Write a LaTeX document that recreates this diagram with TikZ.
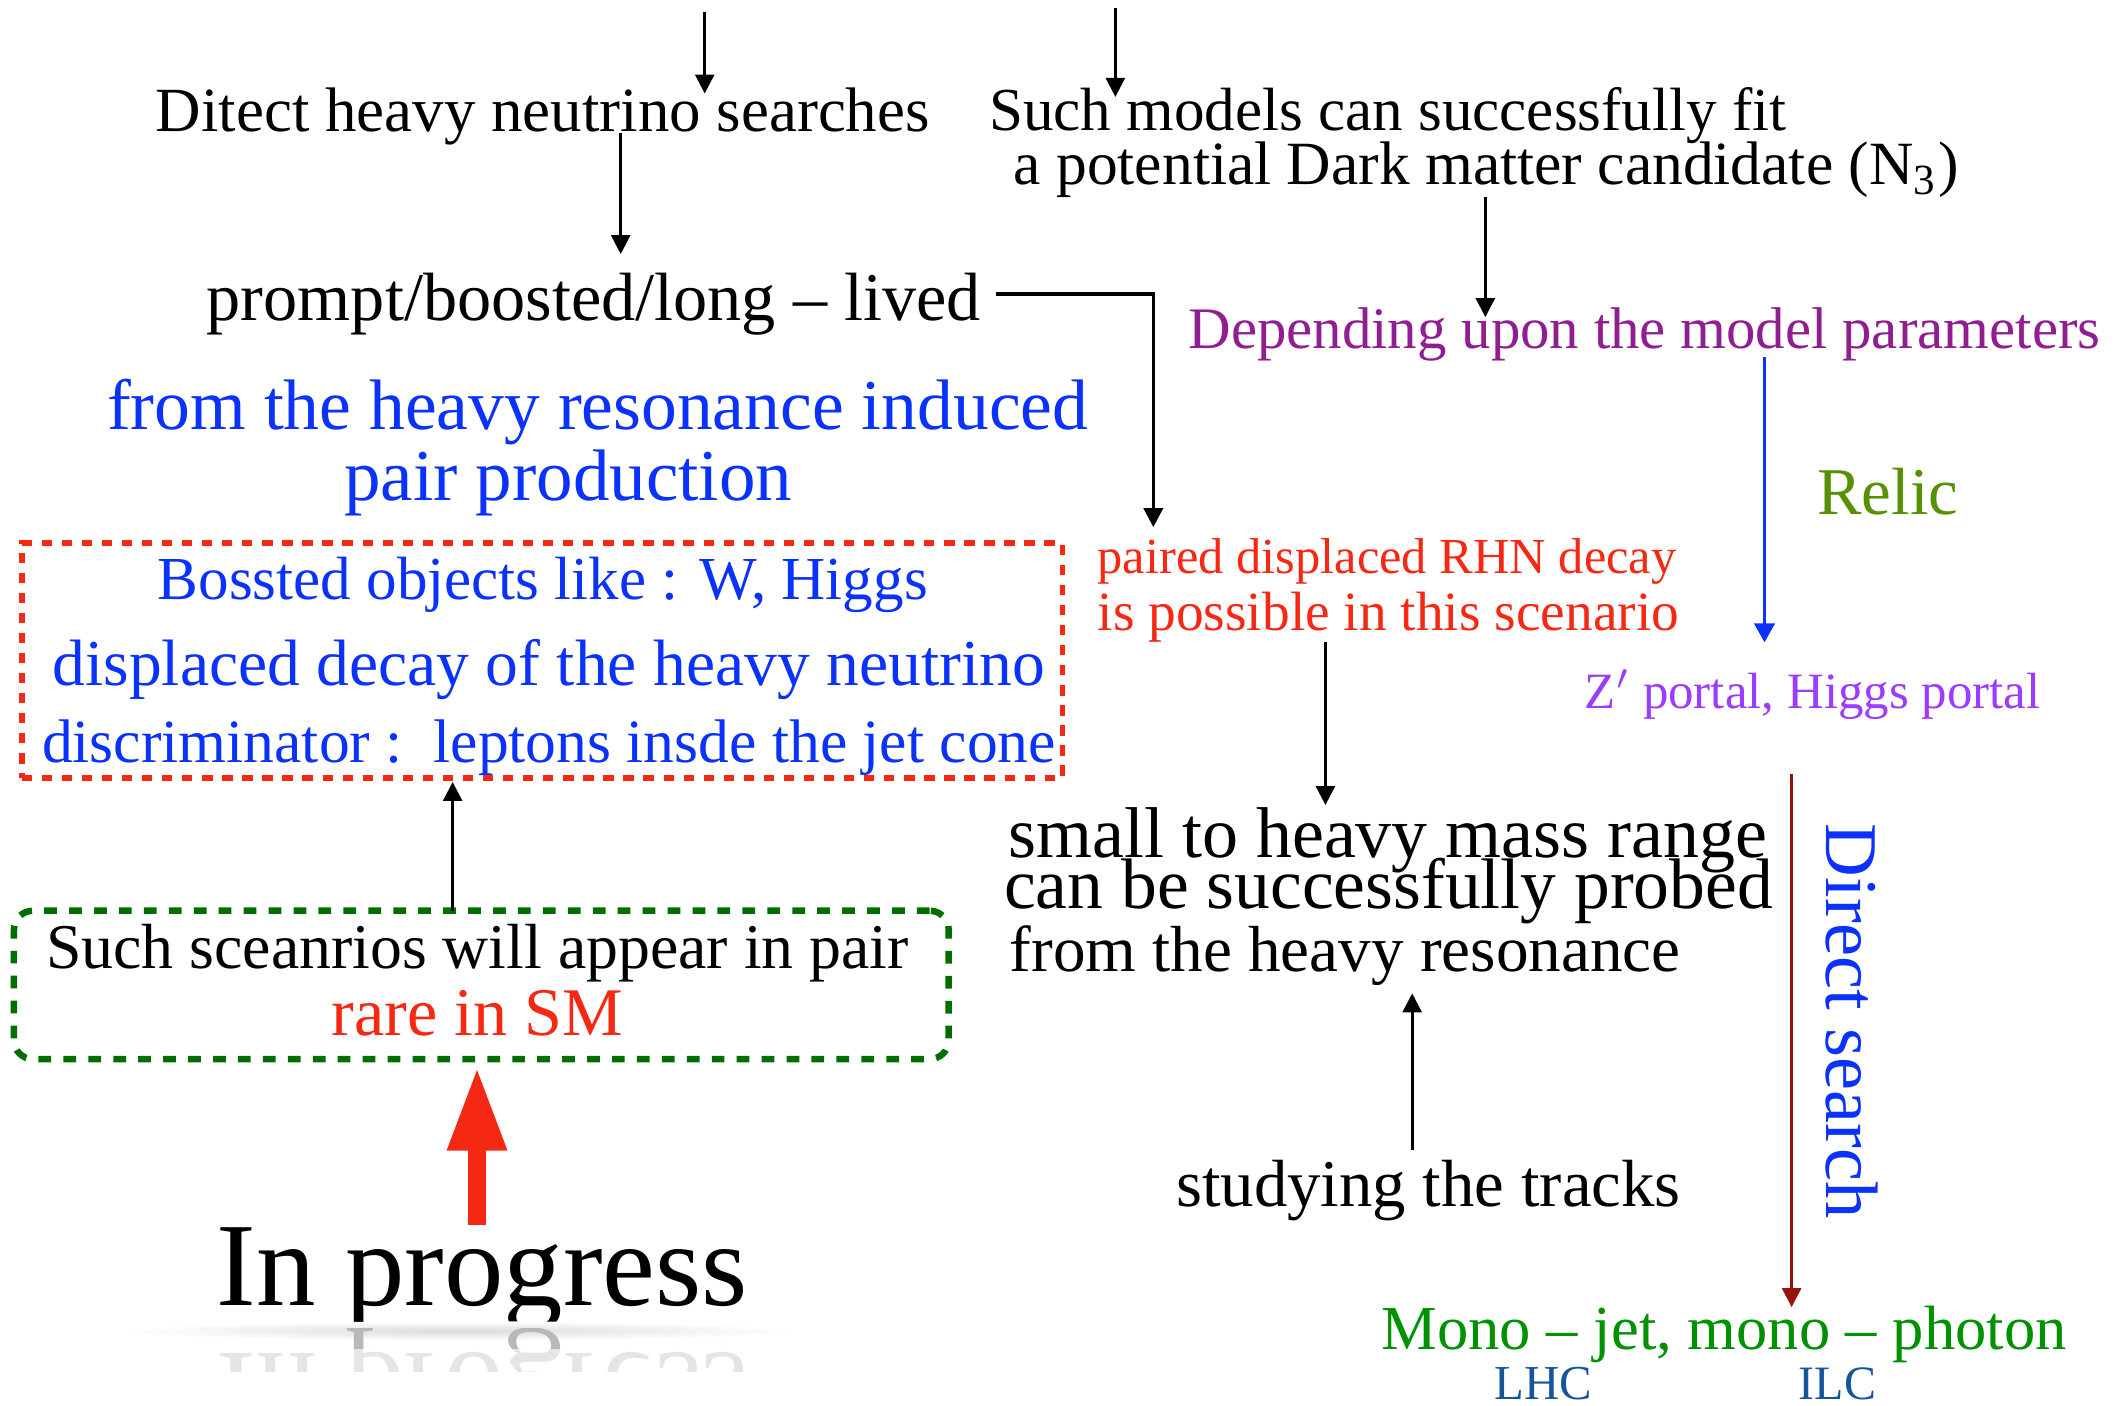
\documentclass[tikz,border=0pt]{standalone}
\usepackage{fontspec}
\setmainfont{Liberation Serif}
\usetikzlibrary{arrows.meta,shapes.misc}
\definecolor{tblue}{RGB}{10,50,250}
\definecolor{tred}{RGB}{245,40,20}
\definecolor{tpurple}{RGB}{145,30,145}
\definecolor{tviolet}{RGB}{155,60,255}
\definecolor{tolive}{RGB}{85,145,0}
\definecolor{tgreen}{RGB}{0,145,0}
\definecolor{tbluedark}{RGB}{20,85,155}
\definecolor{tdarkred}{RGB}{150,20,10}
\definecolor{tboxgreen}{RGB}{0,110,0}
\newcommand{\fitw}[2]{\resizebox{\dimexpr #1pt/2\relax}{!}{#2}}
\begin{document}
\begin{tikzpicture}[x=0.5pt,y=-0.5pt,
  txt/.style={inner sep=0pt,outer sep=0pt,anchor=base west},
  arr/.style={-{Triangle[length=7pt,width=7pt]},line width=1pt},
  redbox/.style={draw=tred,line width=2.1pt,dash pattern=on 3.8pt off 3.6pt,inner sep=0pt,outer sep=0pt},
  greenbox/.style={draw=tboxgreen,line width=2.4pt,dash pattern=on 4.7pt off 4.5pt,rounded corners=7pt,inner sep=0pt,outer sep=0pt}]
\useasboundingbox (0,0) rectangle (1568,1037);

% texts
\node[txt] (ditect) at (115,97) {\fitw{571}{Ditect heavy neutrino searches}};
\node[txt] (such1) at (730,96) {\fitw{588}{Such models can successfully fit}};
\node[txt] (such2) at (748,136.5) {\fitw{697}{a potential Dark matter candidate (N\textsubscript{3})}};
\node[txt] (prompt) at (152.6,236.6) {\fitw{571}{prompt/boosted/long – lived}};
\node[txt,text=tblue] (from1) at (79,317) {\fitw{724}{from the heavy resonance induced}};
\node[txt,text=tblue] (from2) at (254,369) {\fitw{330.5}{pair production}};
\node[txt,text=tblue] (boss) at (116.5,442) {\fitw{568}{Bossted objects like : W, Higgs}};
\node[txt,text=tblue] (disp) at (38.8,505.5) {\fitw{732}{displaced decay of the heavy neutrino}};
\node[txt,text=tblue] (disc) at (31,562.8) {\fitw{748}{discriminator :\ \ leptons insde the jet cone}};
\node[txt] (such3) at (34,715) {\fitw{636.5}{Such sceanrios will appear in pair}};
\node[txt,text=tred] (rare) at (244.7,764) {\fitw{215}{rare in SM}};
\node[txt] (inprog) at (160,963) {\fitw{392}{In progress}};
\node[txt,text=tpurple] (dep) at (877,257) {\fitw{673}{Depending upon the model parameters}};
\node[txt,text=tolive] (relic) at (1341,380) {\fitw{104}{Relic}};
\node[txt,text=tred] (paired) at (810,423) {\fitw{427}{paired displaced RHN decay}};
\node[txt,text=tred] (ispos) at (810,465) {\fitw{429}{is possible in this scenario}};
\node[txt,text=tviolet] (zport) at (1169.5,522.6) {\fitw{336}{Z$'$ portal, Higgs portal}};
\node[txt] (small) at (744,632.8) {\fitw{560}{small to heavy mass range}};
\node[txt] (canbe) at (741,670) {\fitw{567}{can be successfully probed}};
\node[txt] (fromres) at (745,717) {\fitw{495}{from the heavy resonance}};
\node[txt] (study) at (868,890) {\fitw{372}{studying the tracks}};
\node[txt,text=tblue,rotate=-90] (direct) at (1348,608) {\fitw{291}{Direct search}};
\node[txt,text=tgreen] (mono) at (1019.5,996) {\fitw{505.5}{Mono – jet, mono – photon}};
\node[txt,text=tbluedark] (lhc) at (1103,1033) {\fitw{72}{LHC}};
\node[txt,text=tbluedark] (ilc) at (1327.4,1033) {\fitw{57}{ILC}};

% reflection of "In progress"
\shade[inner color=black!14,outer color=white] (340,982) ellipse (250 and 7);
\begin{scope}
  \clip (100,980) rectangle (620,996);
  \node[txt,text=black!28] (refl1) at (160,999) {\fitw{392}{\scalebox{1}[-1]{In progress}}};
\end{scope}
\begin{scope}
  \clip (100,996) rectangle (620,1012);
  \node[txt,text=black!10] (refl2) at (160,999) {\fitw{392}{\scalebox{1}[-1]{In progress}}};
\end{scope}

% boxes
\node[redbox,minimum width=384pt,minimum height=86.75pt] (rbox) at (400,487.25) {};
\node[greenbox,minimum width=344.85pt,minimum height=54.75pt] (gbox) at (355.15,726.75) {};

% connector end points
\coordinate (t1a) at (520,9);   \coordinate (t1b) at (520,69);
\coordinate (t2a) at (823,6);   \coordinate (t2b) at (823,71.5);
\coordinate (d1a) at (458,98);  \coordinate (d1b) at (458,187.5);
\coordinate (p1a) at (735,217); \coordinate (p1b) at (851,389);
\coordinate (n1a) at (1096,145); \coordinate (n1b) at (1096,234);
\coordinate (b1a) at (1302,263.6); \coordinate (b1b) at (1302,474);
\coordinate (g1a) at (334,672); \coordinate (g1b) at (334,577);
\coordinate (r1a) at (978,474); \coordinate (r1b) at (978,594);
\coordinate (s1a) at (1042,848.6); \coordinate (s1b) at (1042,733);
\coordinate (m1a) at (1322,571); \coordinate (m1b) at (1322,964.5);
\coordinate (big1) at (352,904); \coordinate (big2) at (352,787);

% connectors
\draw[arr] (t1a) -- (t1b);
\draw[arr] (t2a) -- (t2b);
\draw[arr] (d1a) -- (d1b);
\draw[arr,line width=1.3pt] (p1a) -| (p1b);
\draw[arr] (n1a) -- (n1b);
\draw[-{Triangle[length=7pt,width=7.5pt]},line width=1.2pt,draw=tblue,fill=tblue] (b1a) -- (b1b);
\draw[arr] (g1a) -- (g1b);
\draw[arr] (r1a) -- (r1b);
\draw[arr] (s1a) -- (s1b);
\draw[-{Triangle[length=7pt,width=7pt]},line width=1pt,draw=tdarkred,fill=tdarkred] (m1a) -- (m1b);
\draw[-{Triangle[length=31pt,width=20.3pt]},line width=6.6pt,draw=tred,fill=tred] (big1) -- (big2);
\end{tikzpicture}
\end{document}
